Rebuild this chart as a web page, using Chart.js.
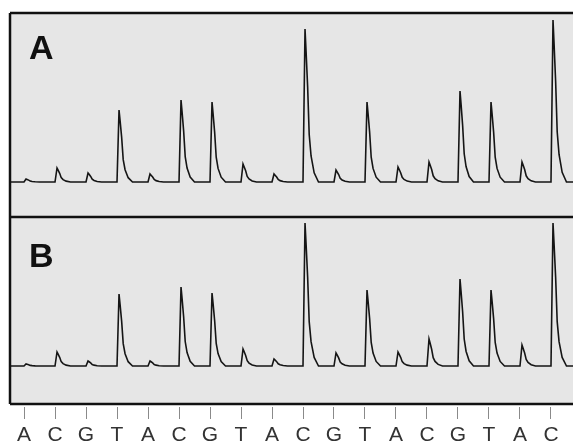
<!DOCTYPE html>
<html>
<head>
<meta charset="utf-8">
<title>Pyrogram A / B</title>
<script src="https://cdn.jsdelivr.net/npm/chart.js@4.4.1/dist/chart.umd.min.js"></script>
<style>
  html, body { margin: 0; padding: 0; background: #fff; }
  #wrap { position: relative; width: 573px; height: 444px; }
</style>
</head>
<body>
<div id="wrap"><canvas id="pyroChart"></canvas></div>
<script>
// dispensation order along the x axis
const dispensations = ['A', 'C', 'G', 'T', 'A', 'C', 'G', 'T', 'A', 'C', 'G', 'T', 'A', 'C', 'G', 'T', 'A', 'C'];
// peak heights (signal units)
const peaksA = [3, 14, 9, 72, 8, 82, 80, 18, 8, 153, 12, 80, 15, 20, 91, 80, 20, 162];
const peaksB = [2, 14, 5, 72, 5, 79, 73, 17, 7, 143, 13, 76, 14, 27, 87, 76, 21, 143];
const panelLabels = ['A', 'B'];

// look of one peak: sharp rise, tailing decay (offset in dispensations, fraction of height)
const peakOffsets = [0, 0.065, 0.1, 0.15, 0.2, 0.26, 0.36, 0.5];
const peakShape   = [0, 1, 0.85, 0.62, 0.31, 0.17, 0.06, 0];

const xMin = -0.452;
const xMax = 17.71;

function buildTrace(heights) {
    const pts = [{ x: xMin, y: 0 }];
    heights.forEach((h, i) => {
        peakOffsets.forEach((o, k) => pts.push({ x: i + o, y: h * peakShape[k] }));
    });
    pts.push({ x: xMax, y: 0 });
    return pts;
}

// gray panels, black frame, big panel letters
const panelFrame = {
    id: 'panelFrame',
    beforeDatasetsDraw(chart) {
        const { ctx, chartArea } = chart;
        ctx.save();
        ['yA', 'yB'].forEach(id => {
            const s = chart.scales[id];
            ctx.fillStyle = '#e6e6e6';
            ctx.fillRect(chartArea.left, s.top, chartArea.right - chartArea.left, s.bottom - s.top);
        });
        ctx.restore();
    },
    afterDatasetsDraw(chart) {
        const { ctx, chartArea } = chart;
        const a = chart.scales.yA, b = chart.scales.yB;
        ctx.save();
        ctx.strokeStyle = '#111';
        ctx.lineWidth = 2.5;
        ctx.beginPath();
        [a.top, b.top, b.bottom].forEach(y => {
            ctx.moveTo(chartArea.left, y);
            ctx.lineTo(chartArea.right, y);
        });
        ctx.moveTo(chartArea.left, a.top);
        ctx.lineTo(chartArea.left, b.bottom);
        ctx.stroke();

        ctx.fillStyle = '#111';
        ctx.font = 'bold 34px "Liberation Sans", Arial, sans-serif';
        ctx.textBaseline = 'alphabetic';
        ctx.fillText(panelLabels[0], chartArea.left + 19, a.top + 46);
        ctx.fillText(panelLabels[1], chartArea.left + 19, b.top + 50);
        ctx.restore();
    }
};

const hiddenY = (min, max, weight) => ({
    type: 'linear',
    position: 'left',
    stack: 'panels',
    stackWeight: weight,
    min: min,
    max: max,
    ticks: { display: false },
    grid: { display: false, drawTicks: false },
    border: { display: false },
    afterFit: s => { s.width = 0; }
});

new Chart(document.getElementById('pyroChart'), {
    type: 'line',
    data: {
        datasets: [
            { label: 'A', data: buildTrace(peaksA), yAxisID: 'yA', borderColor: '#151515', borderWidth: 1.6, pointRadius: 0, tension: 0, fill: false },
            { label: 'B', data: buildTrace(peaksB), yAxisID: 'yB', borderColor: '#151515', borderWidth: 1.6, pointRadius: 0, tension: 0, fill: false }
        ]
    },
    options: {
        responsive: true,
        maintainAspectRatio: false,
        animation: false,
        layout: { padding: { left: 10, top: 13, right: 0, bottom: 0 } },
        plugins: { legend: { display: false }, tooltip: { enabled: false } },
        scales: {
            x: {
                type: 'linear',
                position: 'bottom',
                min: xMin,
                max: xMax,
                afterBuildTicks: s => { s.ticks = dispensations.map((_, i) => ({ value: i })); },
                afterFit: s => { s.height = 40; },
                ticks: {
                    autoSkip: false,
                    maxRotation: 0,
                    padding: 4,
                    color: '#333',
                    font: { family: '"Liberation Sans", Arial, sans-serif', size: 21 },
                    callback: (v, i) => dispensations[i]
                },
                grid: {
                    drawOnChartArea: false,
                    drawTicks: true,
                    tickLength: 15,
                    tickColor: '#8a8a8a',
                    tickWidth: 1,
                    tickBorderDash: [0, 3, 12]
                },
                border: { display: false }
            },
            yB: hiddenY(-38, 149, 187),
            yA: hiddenY(-35, 169, 204)
        }
    },
    plugins: [panelFrame]
});
</script>
</body>
</html>
